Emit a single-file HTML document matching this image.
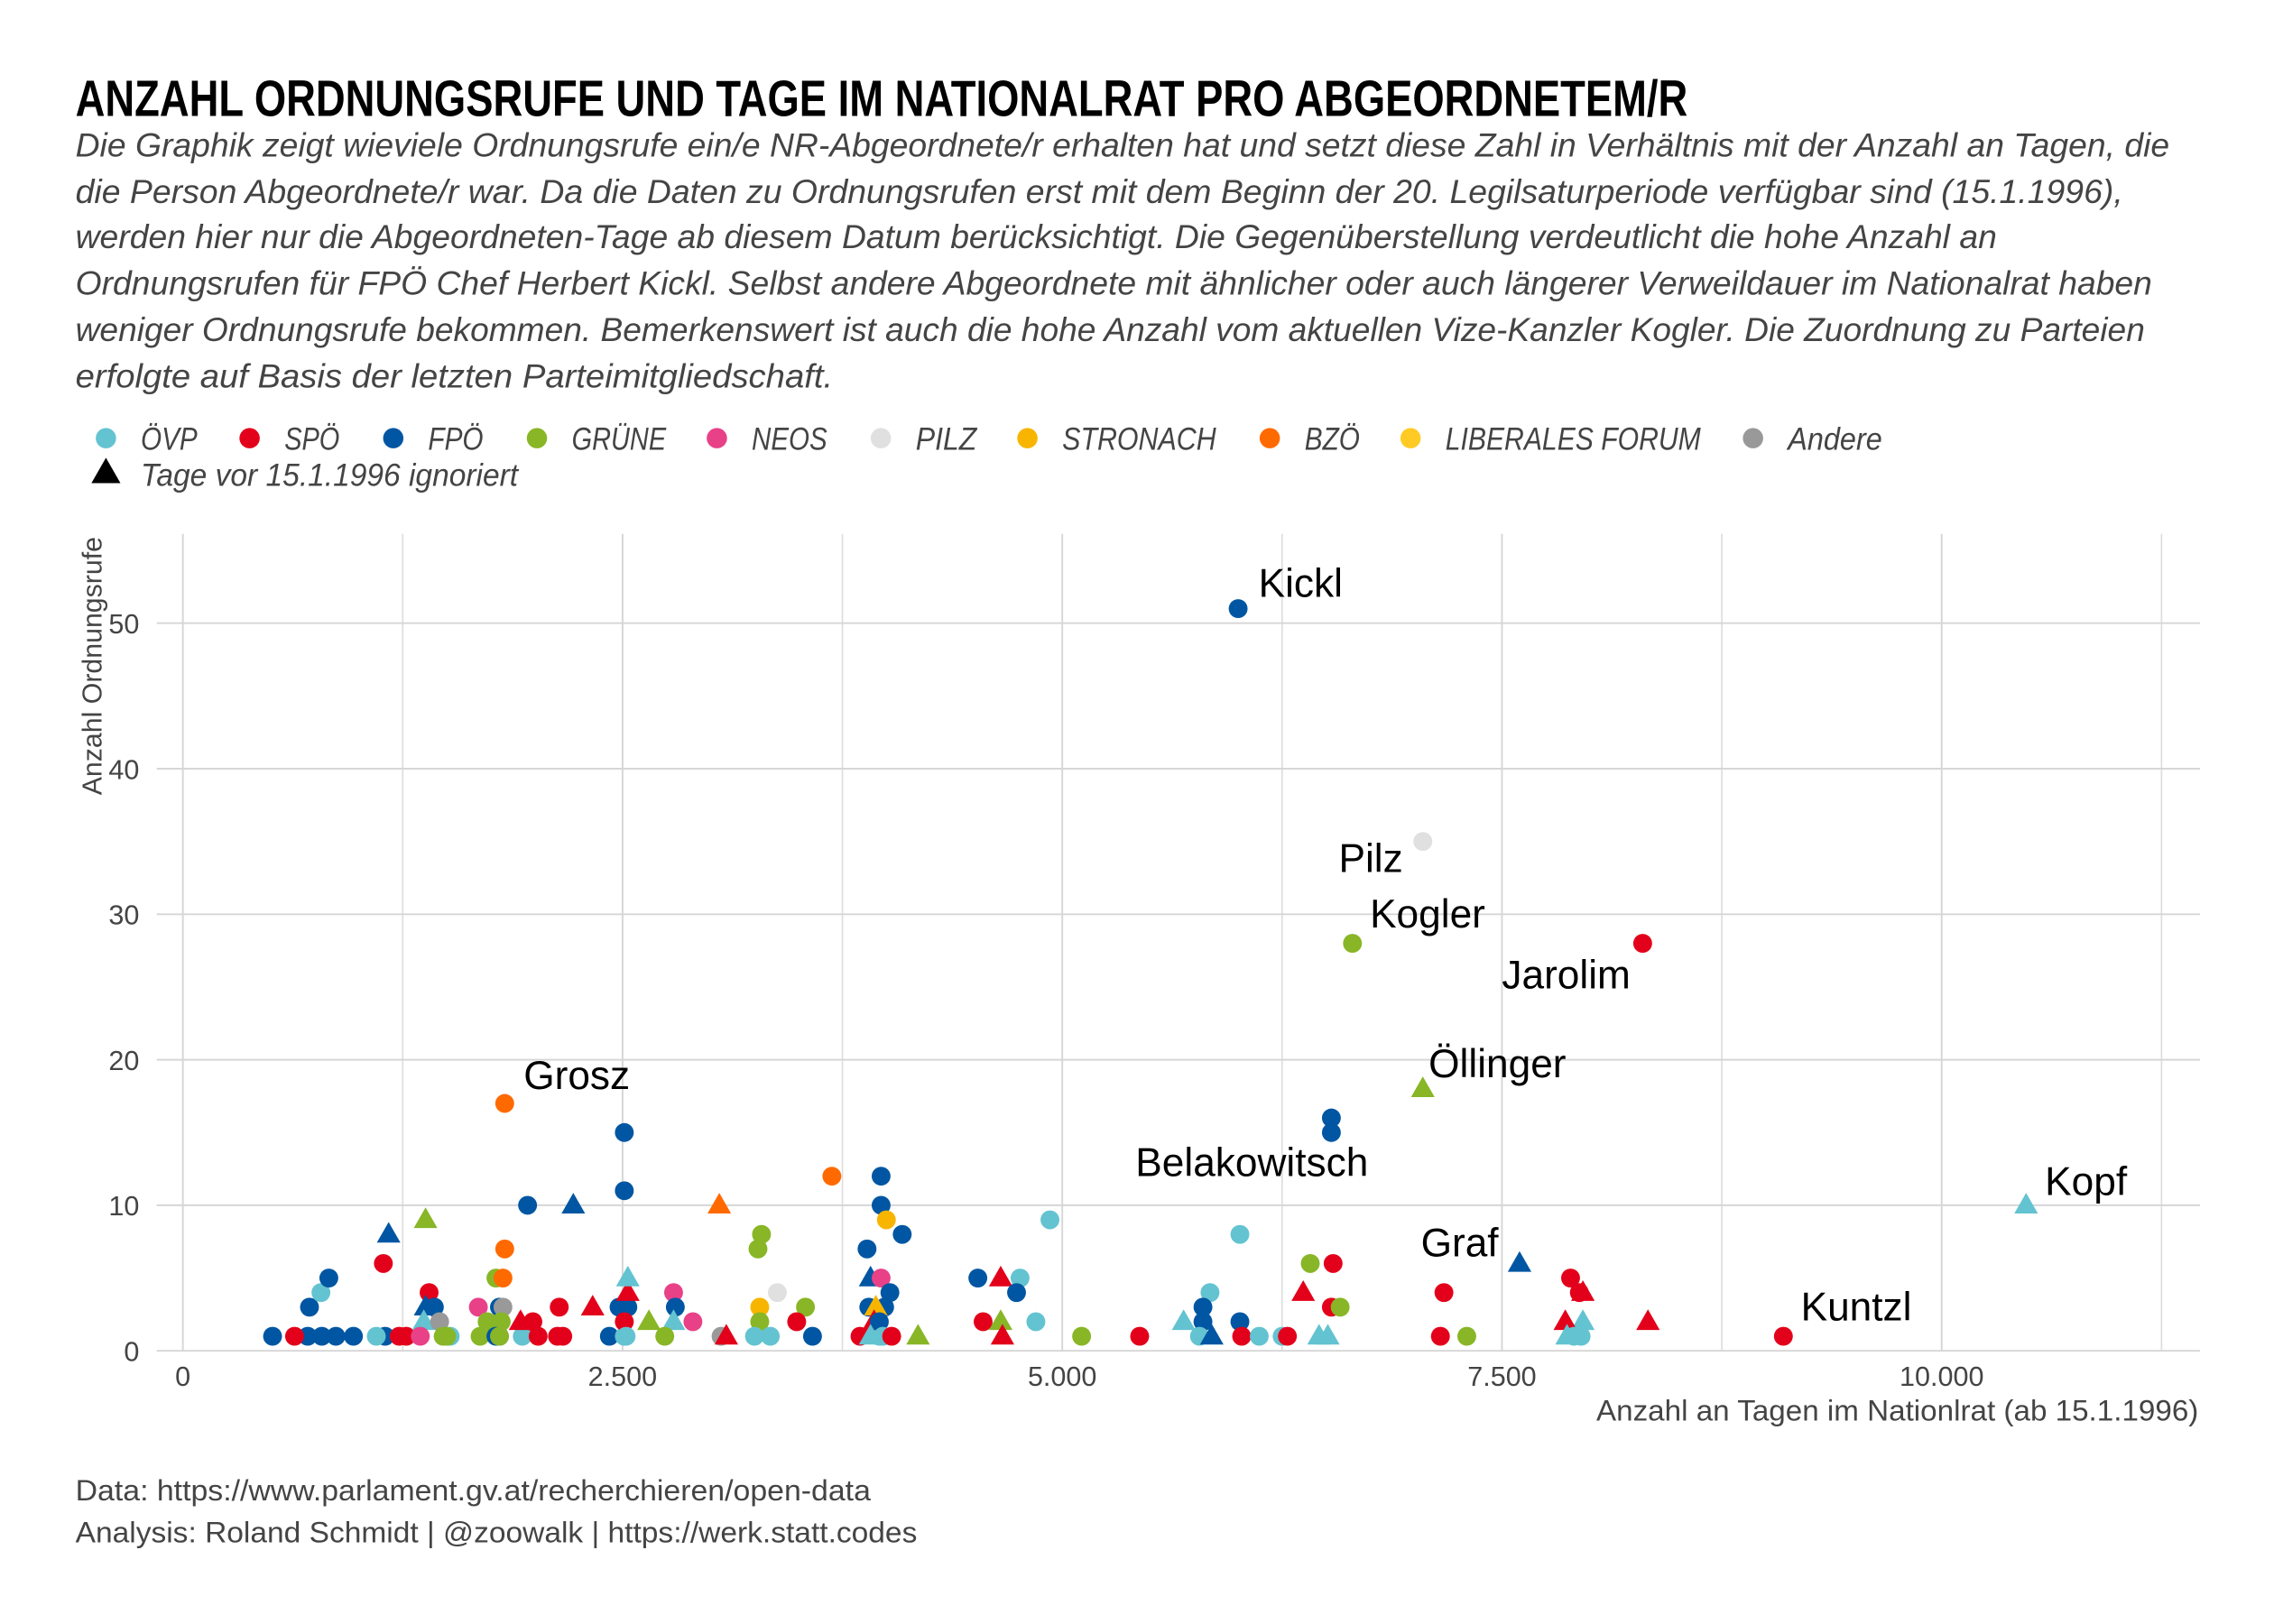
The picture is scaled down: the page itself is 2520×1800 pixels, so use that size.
<!DOCTYPE html>
<html><head><meta charset="utf-8"><style>
html,body{margin:0;padding:0;background:#fff;}
svg{display:block;}
text{font-family:"Liberation Sans Narrow","Liberation Sans",sans-serif;}
</style></head><body>
<svg id="chart" width="2520" height="1800" viewBox="0 0 1567 1119.29" xmlns="http://www.w3.org/2000/svg">
<rect x="0" y="0" width="1567" height="1119.29" fill="#fff"/>
<text x="52" y="80" font-size="35" font-weight="bold" fill="#000" textLength="1111" lengthAdjust="spacingAndGlyphs">ANZAHL ORDNUNGSRUFE UND TAGE IM NATIONALRAT PRO ABGEORDNETEM/R</text>
<g font-size="23" font-style="italic" fill="#444">
<text x="52" y="108" textLength="1443" lengthAdjust="spacingAndGlyphs">Die Graphik zeigt wieviele Ordnungsrufe ein/e NR-Abgeordnete/r erhalten hat und setzt diese Zahl in Verhältnis mit der Anzahl an Tagen, die</text>
<text x="52" y="140" textLength="1411" lengthAdjust="spacingAndGlyphs">die Person Abgeordnete/r war. Da die Daten zu Ordnungsrufen erst mit dem Beginn der 20. Legilsaturperiode verfügbar sind (15.1.1996),</text>
<text x="52" y="171" textLength="1324" lengthAdjust="spacingAndGlyphs">werden hier nur die Abgeordneten-Tage ab diesem Datum berücksichtigt. Die Gegenüberstellung verdeutlicht die hohe Anzahl an</text>
<text x="52" y="203" textLength="1431" lengthAdjust="spacingAndGlyphs">Ordnungsrufen für FPÖ Chef Herbert Kickl. Selbst andere Abgeordnete mit ähnlicher oder auch längerer Verweildauer im Nationalrat haben</text>
<text x="52" y="235" textLength="1426" lengthAdjust="spacingAndGlyphs">weniger Ordnungsrufe bekommen. Bemerkenswert ist auch die hohe Anzahl vom aktuellen Vize-Kanzler Kogler. Die Zuordnung zu Parteien</text>
<text x="52" y="267" textLength="522" lengthAdjust="spacingAndGlyphs">erfolgte auf Basis der letzten Parteimitgliedschaft.</text>
</g>
<g id="legend"></g>
<g id="grid"></g>
<g id="axes"></g>
<g id="marks"></g>
<g id="labels"></g>
<text transform="translate(70,370) rotate(-90)" text-anchor="end" font-size="19" fill="#444" textLength="178" lengthAdjust="spacingAndGlyphs">Anzahl Ordnungsrufe</text>
<text x="1515" y="979" text-anchor="end" font-size="20" fill="#444" textLength="415" lengthAdjust="spacingAndGlyphs">Anzahl an Tagen im Nationlrat (ab 15.1.1996)</text>
<text x="52" y="1034" font-size="20" fill="#444" textLength="548" lengthAdjust="spacingAndGlyphs">Data: https://www.parlament.gv.at/recherchieren/open-data</text>
<text x="52" y="1063" font-size="20" fill="#444" textLength="580" lengthAdjust="spacingAndGlyphs">Analysis: Roland Schmidt | @zoowalk | https://werk.statt.codes</text>
</svg>
<script>
const partyNames = ["ÖVP","SPÖ","FPÖ","GRÜNE","NEOS","PILZ","STRONACH","BZÖ","LIBERALES FORUM","Andere"];
const partyColors = ["#63C3D1","#E3001A","#0056A2","#88B626","#E84188","#E0E0E0","#F8B500","#FF6A00","#FFCA24","#999999"];
const xTicks = [0,2500,5000,7500,10000];
const xTickLabels = ["0","2.500","5.000","7.500","10.000"];
const xMinor = [1250,3750,6250,8750,11250];
const yTicks = [0,10,20,30,40,50];
// days, ordnungsrufe, party index, ignored-days flag (triangle)
const days = [6000,7050,6650,8300,7050,6530,6530,1830,10480,7600,9100,
510,710,790,870,970,1150,1800,2425,
635,1230,1270,2130,2160,
1100,1520,1930,2510,3960,
720,785,830,1140,1170,1380,1400,1380,1430,1370,1460,1480,1500,1350,
1680,1800,1820,1780,1820,1830,1730,1810,1690,1780,1800,
1960,2220,1990,1920,2140,2330,2020,
2510,2510,2480,2530,2530,2530,2510,2520,2790,2800,2790,2900,2650,2740,3060,3090,3050,
3290,3270,3280,3280,3250,3340,3380,3540,3490,3580,3690,
3970,3970,4000,4090,3890,3910,3970,4020,3900,3990,3940,3930,3960,3850,3910,3980,4030,4180,
4520,4650,4760,4740,4550,4650,4660,4850,4930,5110,5440,
5690,5840,5800,5800,5780,5850,6010,6010,6020,6120,6250,6280,
6370,6410,6460,6510,6540,6530,6580,7300,7170,7150,
7890,7940,7960,7960,7860,7910,7950,7870,8330];
const counts = [51,35,28,28,18,16,15,17,10,6,1,
1,1,1,1,1,1,1,1,
1,1,1,1,1,
1,1,1,1,1,
3,4,5,6,8,9,4,3,3,2,2,1,1,1,
3,3,3,5,5,7,2,2,1,1,1,
10,10,2,2,3,3,1,
15,11,3,3,4,5,2,1,4,3,2,2,2,1,1,1,10,
8,7,3,2,1,1,4,3,2,1,12,
12,10,9,8,7,5,5,4,3,3,3,2,2,1,1,1,1,1,
5,5,5,4,2,2,1,2,9,1,1,
2,4,3,2,1,1,8,2,1,1,1,1,
4,6,1,1,6,3,3,1,4,1,
5,4,4,2,2,1,1,1,2];
const party = [2,5,3,1,3,2,2,7,0,2,1,
2,2,2,2,2,2,2,2,
1,1,1,1,1,
0,0,0,0,0,
2,0,2,1,2,3,1,2,2,0,9,3,3,4,
4,2,9,3,7,7,3,3,3,2,3,
2,2,1,1,1,1,1,
2,2,2,2,1,0,1,0,4,2,0,4,3,3,9,1,7,
3,3,6,3,0,0,5,3,1,2,7,
2,2,6,2,2,2,4,2,2,2,6,1,2,1,0,0,1,3,
2,1,0,2,1,3,1,0,0,3,1,
0,0,2,2,0,2,0,2,1,0,0,1,
1,3,0,0,1,1,3,3,1,1,
1,1,1,0,1,0,0,0,1];
const tri = [0,0,0,0,1,0,0,0,1,1,0,
0,0,0,0,0,0,0,0,
0,0,0,0,0,
0,0,0,0,0,
0,0,0,0,1,1,0,1,0,1,0,0,0,0,
0,0,0,0,0,0,0,0,0,0,0,
0,1,0,1,0,1,0,
0,0,0,0,1,1,0,0,0,0,1,0,1,0,0,1,1,
0,0,0,0,0,0,0,0,0,0,0,
0,0,0,0,0,1,0,0,0,0,1,1,0,0,1,0,0,1,
0,1,0,0,0,1,1,0,0,0,0,
1,0,0,0,0,1,0,0,0,0,0,0,
1,0,1,1,0,0,0,0,0,0,
0,0,1,1,1,0,0,1,1];
const labelNames = ["Kickl","Pilz","Kogler","Jarolim","Öllinger","Belakowitsch","Grosz","Kopf","Graf","Kuntzl"];
const labelIndex = [0,1,2,3,4,6,7,8,9,10];
const labelDx = [14,-58,12,-97,4,-135,13,13,-68,12];
const labelDy = [-8,21,-11,31,-8,30,-10,-7,-5,-11];

const NS="http://www.w3.org/2000/svg";
const X0=126, PX=303/2500, Y0=931, PY=100.3/10;
const L=108, R=1516, T=368;
function sx(v){return X0+v*PX;}
function sy(v){return Y0-v*PY;}
function mk(tag,attrs,parent){const e=document.createElementNS(NS,tag);for(const k in attrs)e.setAttribute(k,attrs[k]);parent.appendChild(e);return e;}
const grid=document.getElementById('grid'),axes=document.getElementById('axes'),marks=document.getElementById('marks'),labels=document.getElementById('labels'),legend=document.getElementById('legend');
xMinor.forEach(v=>{const l=mk('line',{x1:sx(v),x2:sx(v),y1:T,y2:Y0,stroke:'#dcdcdc','stroke-width':1},grid);

});
xTicks.forEach((v,i)=>{const l=mk('line',{x1:sx(v),x2:sx(v),y1:T,y2:Y0,stroke:'#d6d6d6','stroke-width':1.2},grid);


const t=mk('text',{x:sx(v),y:955,'text-anchor':'middle','font-size':19,fill:'#444'},axes);t.textContent=xTickLabels[i];

});
yTicks.forEach(v=>{const l=mk('line',{x1:L,x2:R,y1:sy(v),y2:sy(v),stroke:'#d6d6d6','stroke-width':1.2},grid);


const t=mk('text',{x:96,y:sy(v)+7,'text-anchor':'end','font-size':19,fill:'#444'},axes);t.textContent=String(v);

});
function drawMark(cx,cy,color,isTri,parent,r){
  let e;
  if(isTri){const s=r*1.25;e=mk('polygon',{points:`${cx},${cy-s*1.05} ${cx-s},${cy+s*0.7} ${cx+s},${cy+s*0.7}`,fill:color},parent);}
  else e=mk('circle',{cx:cx,cy:cy,r:r,fill:color},parent);
  return e;}
days.forEach((d,i)=>{const e=drawMark(sx(d),sy(counts[i]),partyColors[party[i]],tri[i],marks,6.5);

});
labelNames.forEach((n,k)=>{const i=labelIndex[k];const t=mk('text',{x:sx(days[i])+labelDx[k],y:sy(counts[i])+labelDy[k],'font-size':27.5,fill:'#000',style:'font-family:"Liberation Sans",sans-serif'},labels);t.textContent=n;

});
const legX=[73,172,271,370,494,607,708,875,972,1208];
const legW=[39,38,38,65,52,42,106,38,176,65];
partyNames.forEach((n,i)=>{const g=mk('g',{},legend);


mk('circle',{cx:legX[i],cy:302,r:7,fill:partyColors[i]},g);
const t=mk('text',{x:legX[i]+24,y:310,'font-size':22,'font-style':'italic',fill:'#444',textLength:legW[i],lengthAdjust:'spacingAndGlyphs'},g);t.textContent=n;});
const g2=mk('g',{},legend);


drawMark(73,326,'#000',1,g2,8);
const t2=mk('text',{x:97,y:335,'font-size':22,'font-style':'italic',fill:'#444',textLength:260,lengthAdjust:'spacingAndGlyphs'},g2);t2.textContent='Tage vor 15.1.1996 ignoriert';
</script>
</body></html>
